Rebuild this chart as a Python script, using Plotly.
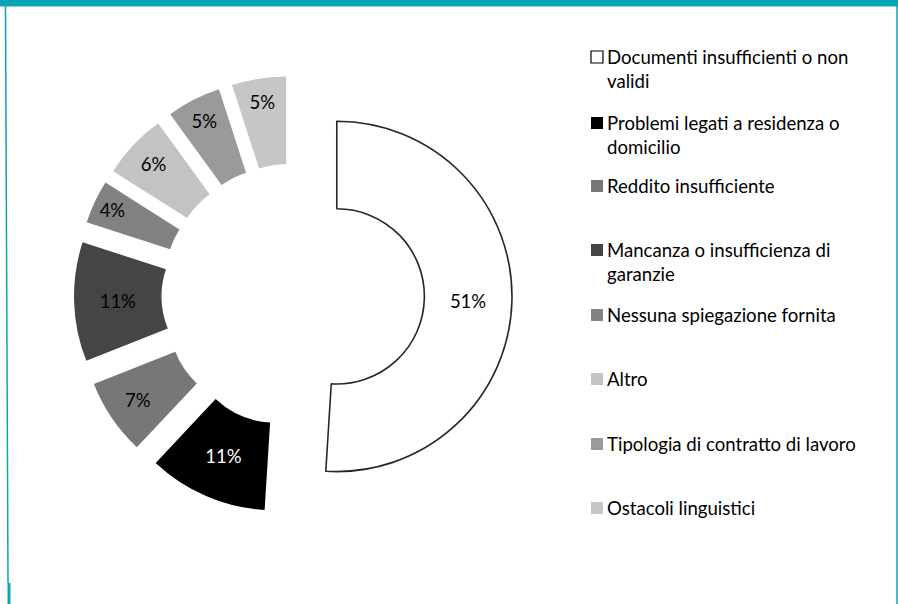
import plotly.graph_objects as go

# ---- data ----
categories = [
    "Documenti insufficienti o non validi",
    "Problemi legati a residenza o domicilio",
    "Reddito insufficiente",
    "Mancanza o insufficienza di garanzie",
    "Nessuna spiegazione fornita",
    "Altro",
    "Tipologia di contratto di lavoro",
    "Ostacoli linguistici",
]
legend_text = [
    "Documenti insufficienti o non<br>validi",
    "Problemi legati a residenza o<br>domicilio",
    "Reddito insufficiente",
    "Mancanza o insufficienza di<br>garanzie",
    "Nessuna spiegazione fornita",
    "Altro",
    "Tipologia di contratto di lavoro",
    "Ostacoli linguistici",
]
values = [51, 11, 7, 11, 4, 6, 5, 5]
colors = ["#ffffff", "#000000", "#777777", "#454545", "#828282", "#c3c3c3", "#9a9a9a", "#c6c6c6"]
text_colors = ["#000000", "#ffffff", "#000000", "#000000", "#000000", "#000000", "#000000", "#000000"]

W, H = 898, 604
FONT = "Lato"
TEAL = "#0aa5b5"

def px(x):
    return x / W

def py(y):
    return 1 - y / H

# pie box (pixels)
cx, cy, box = 293.0, 295.0, 438.0

fig = go.Figure()
fig.add_trace(go.Pie(
    labels=categories,
    values=values,
    sort=False,
    direction="clockwise",
    rotation=0,
    hole=0.5,
    pull=[0.25] * len(values),
    marker=dict(
        colors=colors,
        line=dict(color=["#262626"] + ["rgba(0,0,0,0)"] * (len(values) - 1),
                  width=[1.6] + [0] * (len(values) - 1)),
    ),
    texttemplate="%{percent:.0%}",
    textposition="inside",
    insidetextorientation="horizontal",
    textfont=dict(family=FONT, size=18.5, color=text_colors),
    showlegend=False,
    hoverinfo="label+percent",
    domain=dict(x=[px(cx - box / 2), px(cx + box / 2)],
                y=[py(cy + box / 2), py(cy - box / 2)]),
))

# ---- manual legend ----
leg_y = [57, 123, 186, 250, 315, 379, 444, 508]
fs = 18.6
line_h = 23.5
shapes = []
annotations = []
for i, lab in enumerate(legend_text):
    yc = leg_y[i]
    shapes.append(dict(type="rect", xref="paper", yref="paper",
                       x0=px(591), x1=px(603), y0=py(yc + 6), y1=py(yc - 6),
                       fillcolor=colors[i], line=dict(color="#000000" if i == 0 else colors[i], width=1.2 if i == 0 else 0)))
    annotations.append(dict(xref="paper", yref="paper", x=px(605), y=py(yc - line_h / 2 - 1),
                            xanchor="left", yanchor="top", align="left", valign="top",
                            text=lab, showarrow=False,
                            font=dict(family=FONT, size=fs, color="#000000")))

# ---- frame ----
shapes += [
    dict(type="rect", xref="paper", yref="paper", x0=0, x1=1, y0=py(6.5), y1=1,
         fillcolor=TEAL, line=dict(width=0), layer="above"),
    dict(type="line", xref="paper", yref="paper", x0=px(5.5), x1=px(8), y0=py(6), y1=py(583),
         line=dict(color=TEAL, width=1.5)),
    dict(type="line", xref="paper", yref="paper", x0=px(9), x1=px(9), y0=py(583), y1=0,
         line=dict(color=TEAL, width=3)),
    dict(type="line", xref="paper", yref="paper", x0=px(897), x1=px(897), y0=py(6), y1=0,
         line=dict(color=TEAL, width=1.5)),
]

fig.update_layout(
    width=W, height=H, autosize=False,
    margin=dict(l=0, r=0, t=0, b=0),
    paper_bgcolor="#ffffff", plot_bgcolor="#ffffff",
    font=dict(family=FONT, size=fs, color="#000000"),
    shapes=shapes, annotations=annotations,
)

fig.write_html("out.html", config={"displayModeBar": False},
               post_script="document.body.style.margin='0';document.body.style.overflow='hidden';")
